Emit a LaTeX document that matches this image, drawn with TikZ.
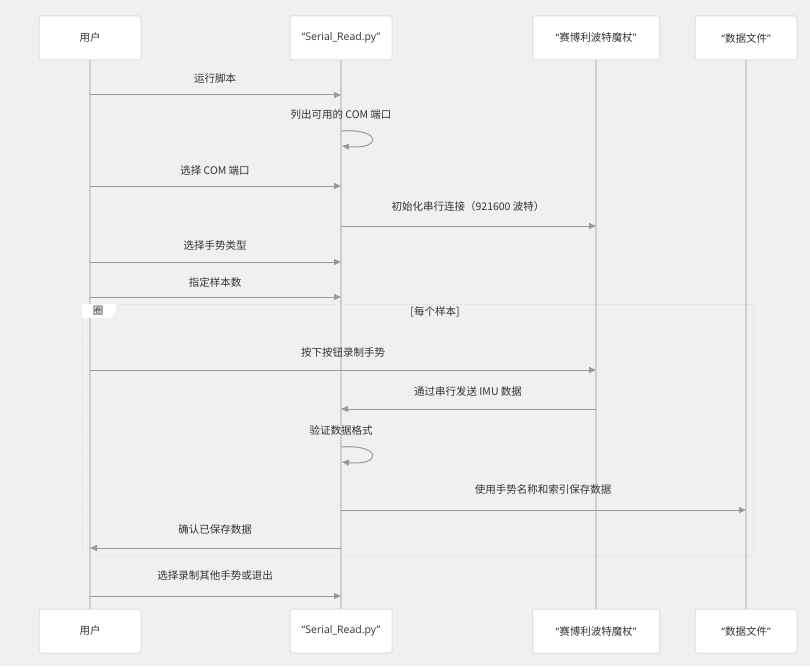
\documentclass[tikz,border=0pt]{standalone}
\usepackage{fontspec}
\setmainfont{Noto Sans CJK SC}
\newfontfamily\lat{Open Sans}
\usetikzlibrary{arrows.meta}
\definecolor{bgc}{HTML}{F1F0EE}
\definecolor{linec}{HTML}{9A9A9A}
\definecolor{lifec}{HTML}{CFCFCF}
\definecolor{boxb}{HTML}{DDDDDD}
\definecolor{txt}{HTML}{333333}
\newcommand{\myoq}{{\lat “}}
\newcommand{\mycq}{{\lat ”}}
\begin{document}
\begin{tikzpicture}[x=1pt,y=-1pt,
  actor/.style={draw=boxb,line width=1pt,fill=white,rounded corners=2pt,minimum width=102pt,minimum height=44pt,inner sep=0pt,font=\fontsize{10.5}{12}\selectfont,text=txt},
  life/.style={draw=lifec,line width=1.6pt},
  msg/.style={draw=linec,line width=1pt,-{Triangle[length=7pt,width=6pt]},color=linec},
  lbl/.style={font=\fontsize{10.5}{12}\selectfont,text=txt,inner sep=0pt}]
\fill[bgc] (0,0) rectangle (810,666);
\useasboundingbox (0,0) rectangle (810,666);
% actors
\node[actor] (u1) at (90,38) {用户};
\node[actor] (s1) at (341,38) {\lat “Serial\_Read.py”};
\node[actor,minimum width=127pt] (w1) at (596,38) {\myoq 赛博利波特魔杖\mycq};
\node[actor] (d1) at (746,38) {\myoq 数据文件\mycq};
\node[actor] (u2) at (90,631) {用户};
\node[actor] (s2) at (341,631) {\lat “Serial\_Read.py”};
\node[actor,minimum width=127pt] (w2) at (596,631) {\myoq 赛博利波特魔杖\mycq};
\node[actor] (d2) at (746,631) {\myoq 数据文件\mycq};
\draw[life] (u1) -- (u2);
\draw[life] (s1) -- (s2);
\draw[life] (w1) -- (w2);
\draw[life] (d1) -- (d2);
% coordinates
\foreach \n/\y in {95,186,262,297,370,596}{
  \coordinate (ua\n) at (90,\y); \coordinate (sa\n) at (341,\y);}
\coordinate (sb226) at (341,226); \coordinate (wb226) at (596,226);
\coordinate (sb409) at (341,409); \coordinate (wb409) at (596,409);
\coordinate (wb370) at (596,370);
\coordinate (sb510) at (341,510); \coordinate (db510) at (746,510);
\coordinate (sb548) at (341,548); \coordinate (ub548) at (90,548);
% loop box
\draw[draw=boxb,line width=1pt,dash pattern=on 1.5pt off 2pt] (82,304) rectangle (753,556);
\fill[white] (82,304) -- (116,304) -- (116,312) -- (110,318) -- (82,318) -- cycle;
\node[lbl] (lp) at (98,311) {圈};
\node[lbl] (lc) at (435,312) {[每个样本]};
% messages
\node[lbl] (m1) at (215,79) {运行脚本};
\draw[msg] (ua95) -- (sa95);
\node[lbl] (m2) at (341,115) {列出可用的 COM 端口};
\coordinate (l1a) at (341,131); \coordinate (l1b) at (342,146);
\draw[msg] (l1a) .. controls (382,128) and (382,150) .. (l1b);
\node[lbl] (m3) at (215,171) {选择 COM 端口};
\draw[msg] (ua186) -- (sa186);
\node[lbl] (m4) at (468,207) {初始化串行连接（921600 波特）};
\draw[msg] (sb226) -- (wb226);
\node[lbl] (m5) at (215,246) {选择手势类型};
\draw[msg] (ua262) -- (sa262);
\node[lbl] (m6) at (215,282) {指定样本数};
\draw[msg] (ua297) -- (sa297);
\node[lbl] (m7) at (343,352) {按下按钮录制手势};
\draw[msg] (ua370) -- (wb370);
\node[lbl] (m8) at (468,391) {通过串行发送 IMU 数据};
\draw[msg] (wb409) -- (sb409);
\node[lbl] (m9) at (341,430) {验证数据格式};
\coordinate (l2a) at (341,447); \coordinate (l2b) at (342,462);
\draw[msg] (l2a) .. controls (382,444) and (382,466) .. (l2b);
\node[lbl] (m10) at (543,490) {使用手势名称和索引保存数据};
\draw[msg] (sb510) -- (db510);
\node[lbl] (m11) at (215,530) {确认已保存数据};
\draw[msg] (sb548) -- (ub548);
\node[lbl] (m12) at (215,576) {选择录制其他手势或退出};
\draw[msg] (ua596) -- (sa596);
\end{tikzpicture}
\end{document}
